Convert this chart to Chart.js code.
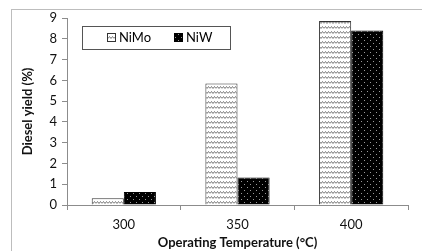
<!DOCTYPE html>
<html>
<head>
<meta charset="utf-8">
<script src="https://cdn.jsdelivr.net/npm/chart.js@4.4.0/dist/chart.umd.min.js"></script>
<style>
  html, body { margin: 0; padding: 0; background: #fff; }
  #wrap { position: relative; width: 422px; height: 251px; overflow: hidden; }
  #frame { position: absolute; left: 11px; top: 9px; width: 430px; height: 260px; border: 1px solid #bdbdbd; }
  canvas { position: absolute; left: 0; top: 0; }
</style>
</head>
<body>
<div id="wrap">
  <div id="frame"></div>
  <canvas id="barChart" width="422" height="251"></canvas>
</div>
<script>
// temperatures and yields
const temps = ["300", "350", "400"];
const nimoYield = [0.33, 5.85, 8.85];
const niwYield = [0.62, 1.32, 8.4];
const yTicks = [0, 1, 2, 3, 4, 5, 6, 7, 8, 9];

function zigzagPattern() {
  const c = document.createElement("canvas");
  c.width = 6; c.height = 5;
  const g = c.getContext("2d");
  g.fillStyle = "#fff";
  g.fillRect(0, 0, 6, 5);
  g.strokeStyle = "#7a7a7a";
  g.lineWidth = 1;
  g.beginPath();
  g.moveTo(0, 3.5);
  g.lineTo(1.5, 1.5);
  g.lineTo(3, 3.5);
  g.lineTo(4.5, 1.5);
  g.lineTo(6, 3.5);
  g.stroke();
  return g.createPattern(c, "repeat");
}

function dotPattern() {
  const c = document.createElement("canvas");
  c.width = 6; c.height = 6;
  const g = c.getContext("2d");
  g.fillStyle = "#000";
  g.fillRect(0, 0, 6, 6);
  g.fillStyle = "#9a9a9a";
  g.fillRect(1, 1, 1, 1);
  g.fillRect(4, 4, 1, 1);
  return g.createPattern(c, "repeat");
}

const ctx = document.getElementById("barChart").getContext("2d");
const nimoFill = zigzagPattern();
const niwFill = dotPattern();

// legend box drawn inside the plot like the excel one
const boxLegend = {
  id: "boxLegend",
  afterDraw(chart) {
    const g = chart.ctx;
    g.save();
    g.strokeStyle = "#555";
    g.lineWidth = 1;
    g.strokeRect(82.5, 26.5, 148, 23);
    const items = [
      { x: 107, label: "NiMo", fill: nimoFill, line: "#333" },
      { x: 174, label: "NiW", fill: niwFill, line: "#000" },
    ];
    g.font = "13px Lato";
    g.textBaseline = "middle";
    for (const it of items) {
      g.fillStyle = it.fill;
      g.fillRect(it.x, 33, 9, 9);
      g.strokeStyle = it.line;
      g.strokeRect(it.x + 0.5, 33.5, 8, 8);
      g.fillStyle = "#000";
      g.fillText(it.label, it.x + 12, 38);
    }
    g.restore();
  },
};

new Chart(ctx, {
  type: "bar",
  data: {
    labels: temps,
    datasets: [
      {
        label: "NiMo",
        data: nimoYield,
        backgroundColor: nimoFill,
        borderColor: "#333",
        borderWidth: 1,
        categoryPercentage: 0.565,
        barPercentage: 1,
      },
      {
        label: "NiW",
        data: niwYield,
        backgroundColor: niwFill,
        borderColor: "#000",
        borderWidth: 1,
        categoryPercentage: 0.565,
        barPercentage: 1,
      },
    ],
  },
  options: {
    responsive: false,
    animation: false,
    layout: { padding: { left: 0, right: 14, top: 18, bottom: 0 } },
    plugins: { legend: { display: false }, tooltip: { enabled: false } },
    scales: {
      x: {
        afterFit: (s) => { s.height = 46; },
        border: { color: "#8c8c8c" },
        grid: { drawOnChartArea: false, tickLength: 5, color: "#8c8c8c" },
        ticks: { color: "#111", font: { family: "Lato", size: 13 }, padding: 7 },
        title: {
          display: true,
          text: "Operating Temperature (°C)",
          color: "#111",
          font: { family: "Lato", size: 13, weight: "bold" },
          padding: { top: 1, bottom: 0 },
        },
      },
      y: {
        min: 0,
        max: 9,
        afterFit: (s) => { s.width = 67; },
        afterBuildTicks: (s) => { s.ticks = yTicks.map((v) => ({ value: v })); },
        border: { color: "#8c8c8c" },
        grid: { drawOnChartArea: false, tickLength: 5, color: "#8c8c8c" },
        ticks: { color: "#111", font: { family: "Lato", size: 13 }, padding: 5 },
        title: {
          display: true,
          text: "Diesel yield (%)",
          color: "#111",
          font: { family: "Lato", size: 13, weight: "bold" },
          padding: { top: 20, bottom: 0 },
        },
      },
    },
  },
  plugins: [boxLegend],
});
</script>
</body>
</html>
